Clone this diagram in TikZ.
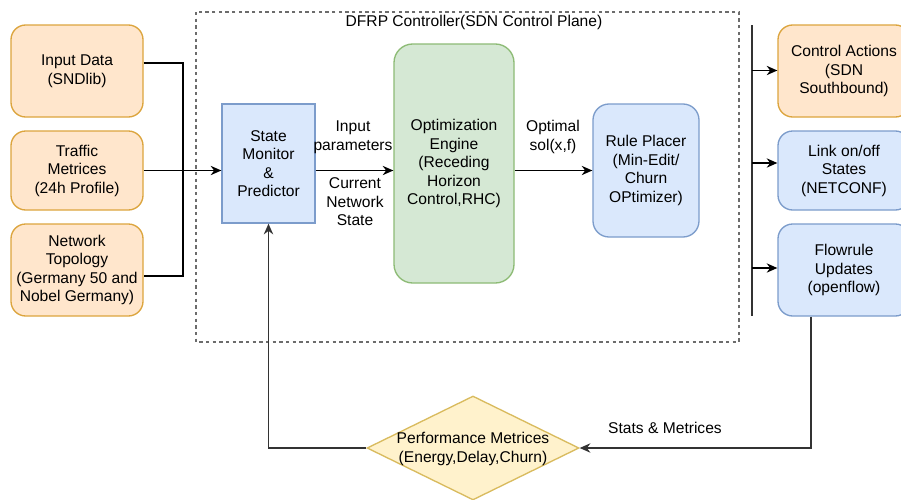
\documentclass[tikz,border=0pt]{standalone}
\usepackage{fontspec}
\setmainfont{Liberation Sans}
\usetikzlibrary{arrows.meta,shapes.geometric,calc}
\definecolor{orfill}{HTML}{FFE6CC}
\definecolor{ordraw}{HTML}{DCA53E}
\definecolor{blfill}{HTML}{DAE8FC}
\definecolor{bldraw}{HTML}{7C9CCB}
\definecolor{grfill}{HTML}{D5E8D4}
\definecolor{grdraw}{HTML}{8DBB75}
\definecolor{yefill}{HTML}{FFF2CC}
\definecolor{yedraw}{HTML}{D9BB5E}
\definecolor{lnk}{HTML}{333333}
\begin{document}
\begin{tikzpicture}[x=0.75pt,y=-0.75pt,
  font=\fontsize{11.7}{13.9}\selectfont,
  every node/.style={align=center,inner sep=0pt},
  obox/.style={draw=ordraw,fill=orfill,line width=1pt,rounded corners=11pt,minimum width=99pt},
  bbox/.style={draw=bldraw,fill=blfill,line width=1pt,rounded corners=11pt,minimum width=99pt},
  smbox/.style={draw=bldraw,fill=blfill,line width=1pt,minimum width=69.75pt,minimum height=89.25pt},
  oebox/.style={draw=grdraw,fill=grfill,line width=1pt,rounded corners=14pt,minimum width=90pt,minimum height=179.25pt},
  rpbox/.style={draw=bldraw,fill=blfill,line width=1pt,rounded corners=12pt,minimum width=79.5pt,minimum height=99.75pt},
  dia/.style={diamond,draw=yedraw,fill=yefill,line width=1pt,minimum width=159pt,minimum height=78pt},
  ctl/.style={draw=gray!85!black,line width=0.8pt,dash pattern=on 2.5pt off 2.5pt},
  arr/.style={draw=black,line width=1pt,-{Stealth[length=8pt,width=7pt]}},
  fb/.style={draw=lnk,line width=1.1pt,-{Stealth[length=8pt,width=7pt]}},
  feed/.style={draw=black,line width=2.2pt},
  bar/.style={draw=lnk,line width=1.6pt}]
\clip (0,0) rectangle (901,500);
\fill[white] (0,0) rectangle (901,500);

% controller frame
\draw[ctl] (196,12) rectangle (739,342);
\node (ttl) at (474,22) {DFRP Controller(SDN Control Plane)};

% data sources
\node[obox,minimum height=69pt] (ind) at (77,71) {Input Data\\(SNDlib)};
\node[obox,minimum height=59.25pt] (trf) at (77,170.5) {Traffic\\Metrices\\(24h Profile)};
\node[obox,minimum height=69pt] (topo) at (77,270) {Network\\Topology\\(Germany 50 and\\Nobel Germany)};

% controller blocks
\node[smbox] (sm) at (268.5,163.5) {State\\Monitor\\\&\\Predictor};
\node[oebox] (oe) at (454,163.5) {Optimization\\Engine\\(Receding\\Horizon\\Control,RHC)};
\node[rpbox] (rp) at (646,170.5) {Rule Placer\\(Min-Edit/\\Churn\\OPtimizer)};

% southbound outputs
\node[obox,minimum height=69pt] (ca) at (844,71) {Control Actions\\(SDN\\Southbound)};
\node[bbox,minimum height=59.25pt] (lk) at (844,170.5) {Link on/off\\States\\(NETCONF)};
\node[bbox,minimum height=69pt] (fl) at (844,270) {Flowrule\\Updates\\(openflow)};

% performance check
\node[dia] (pm) at (473,448) {};
\node (pmt) at (473,449) {Performance Metrices\\(Energy,Delay,Churn)};

% input merge
\coordinate (jn) at (183,170);
\draw[feed] ([yshift=6pt]ind.east) -| (jn) |- ([yshift=-4.5pt]topo.east);
\draw[arr] (trf.east) -- (trf.east -| sm.west);

% controller pipeline
\draw[arr] (sm.east |- trf.east) -- (oe.west |- trf.east);
\node (ip) at (353,137) {Input\\parameters};
\node (cns) at (355,202) {Current\\Network\\State};
\draw[arr] (oe.east |- trf.east) -- (rp.west);
\node (os) at (553,137) {Optimal\\sol(x,f)};

% distribution bar
\coordinate (bt) at (752,25);
\coordinate (bb) at (752,316);
\draw[bar] (bt) -- (bb);
\coordinate (b1) at (752,70.5);
\coordinate (b2) at (752,163);
\coordinate (b3) at (752,268);
\draw[arr] (b1) -- (b1 -| ca.west);
\draw[arr] (b2) -- (b2 -| lk.west);
\draw[arr] (b3) -- (b3 -| fl.west);

% feedback loop
\draw[fb] ([xshift=-24.75pt]fl.south) |- (pm.east);
\node (sm2) at (665,428) {Stats \& Metrices};
\draw[fb] (pm.west) -| (sm.south);
\end{tikzpicture}
\end{document}
